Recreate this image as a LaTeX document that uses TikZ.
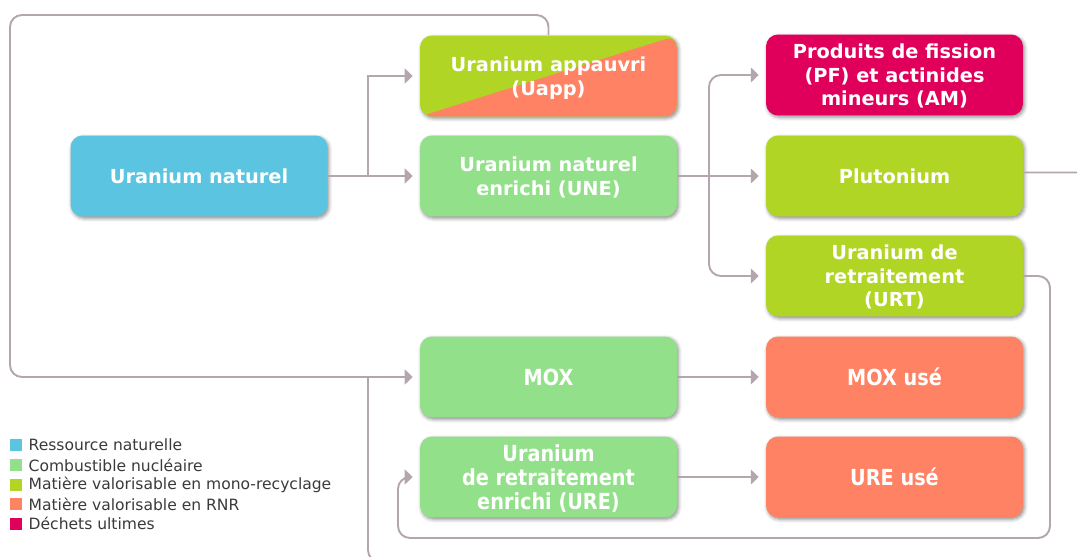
\documentclass[tikz,border=0pt]{standalone}
\usepackage{fontspec}
\setmainfont{DejaVu Sans}
\newfontfamily\narrowfont[FakeStretch=0.87]{DejaVu Sans}
\usetikzlibrary{arrows.meta}
\usetikzlibrary{positioning}
\usetikzlibrary{shadows.blur}

\definecolor{ressource}{HTML}{5BC5E1}
\definecolor{combustible}{HTML}{93E08B}
\definecolor{monorecyc}{HTML}{B1D524}
\definecolor{rnr}{HTML}{FF8264}
\definecolor{dechet}{HTML}{E0005B}
\definecolor{flux}{HTML}{B4A6AE}
\definecolor{legende}{HTML}{3A3A3A}

\tikzset{
  box/.style={rounded corners=6.8pt, minimum width=5.14cm, minimum height=1.62cm,
    inner sep=1pt, text depth=0pt, align=center, text=white,
    font=\bfseries\fontsize{11}{13.3}\selectfont,
    blur shadow={shadow xshift=0.8pt, shadow yshift=-1pt, shadow blur radius=2pt, shadow opacity=45}},
  narrowbox/.style={box, font=\narrowfont\bfseries\fontsize{12.6}{13.6}\selectfont},
  flow/.style={draw=flux, line width=1.1pt, -{Triangle[length=4.5pt,width=8.5pt]}, shorten >=4pt},
  link/.style={draw=flux, line width=1.1pt},
  legkey/.style={minimum size=0.24cm, inner sep=0pt},
  legtext/.style={font=\fontsize{8.85}{10}\selectfont, text=legende, inner sep=0pt}
}

\begin{document}
\begin{tikzpicture}[x=0.02cm, y=-0.02cm]
                \useasboundingbox (0,0) rectangle (1077,557);
                \clip (0,0) rectangle (1077,557);

                % Raw material and enrichment
                \node[box, fill=ressource] (un) at (199,176) {Uranium naturel};
                \node[box, fill=monorecyc, path picture={
                    \fill[rnr] (path picture bounding box.south west) -- (path picture bounding box.north east)
                      -- (path picture bounding box.south east) -- cycle;}] (uapp) at (548.5,76) {Uranium appauvri\\(Uapp)};
                \node[box, fill=combustible] (une) at (548.5,176) {Uranium naturel\\enrichi (UNE)};

                % Reprocessing outputs
                \node[box, fill=dechet] (pf) at (894.5,75) {Produits de fission\\(PF) et actinides\\mineurs (AM)};
                \node[box, fill=monorecyc] (pu) at (894.5,176) {Plutonium};
                \node[box, fill=monorecyc] (urt) at (894.5,276) {Uranium de\\retraitement\\(URT)};

                % Recycled fuels
                \node[narrowbox, fill=combustible] (mox) at (548.5,377) {MOX};
                \node[narrowbox, fill=rnr] (moxu) at (894.5,377) {MOX usé};
                \node[narrowbox, fill=combustible] (ure) at (548.5,477) {Uranium\\de retraitement\\enrichi (URE)};
                \node[narrowbox, fill=rnr] (ureu) at (894.5,477) {URE usé};

                % Flows
                \coordinate (fork1) at (368,176);
                \coordinate (fork2) at (709,176);
                \draw[flow] (un.east) -- (une.west);
                \draw[flow] (fork1) |- (uapp.west);
                \draw[flow] (une.east) -- (pu.west);
                \draw[flow, rounded corners=6.8pt] (fork2) |- (pf.west);
                \draw[flow, rounded corners=6.8pt] (fork2) |- (urt.west);
                \draw[flow] (mox.east) -- (moxu.west);
                \draw[flow] (ure.east) -- (ureu.west);

                % Loops back into the fuels
                \draw[flow, rounded corners=6.8pt] (uapp.north) |- (10,15) |- (mox.west);
                \draw[link, rounded corners=6.8pt] ([yshift=2pt]pu.east) -- ++(100,0) |- (368,562) -- (368,377);
                \draw[flow, rounded corners=6.8pt] (urt.east) -- (1050,276) -- (1050,538) -- (398,538) -- (398,477) -- (ure.west);

                % Legend
                \node[legkey, fill=ressource] (k1) at (16,445) {};
                \node[legtext, right=3.4pt of k1] (l1) {Ressource naturelle};
                \node[legkey, fill=combustible] (k2) at (16,465) {};
                \node[legtext, right=3.4pt of k2] (l2) {Combustible nucléaire};
                \node[legkey, fill=monorecyc] (k3) at (16,484.5) {};
                \node[legtext, right=3.4pt of k3] (l3) {Matière valorisable en mono-recyclage};
                \node[legkey, fill=rnr] (k4) at (16,504) {};
                \node[legtext, right=3.4pt of k4] (l4) {Matière valorisable en RNR};
                \node[legkey, fill=dechet] (k5) at (16,523.5) {};
                \node[legtext, right=3.4pt of k5] (l5) {Déchets ultimes};
            \end{tikzpicture}
\end{document}
